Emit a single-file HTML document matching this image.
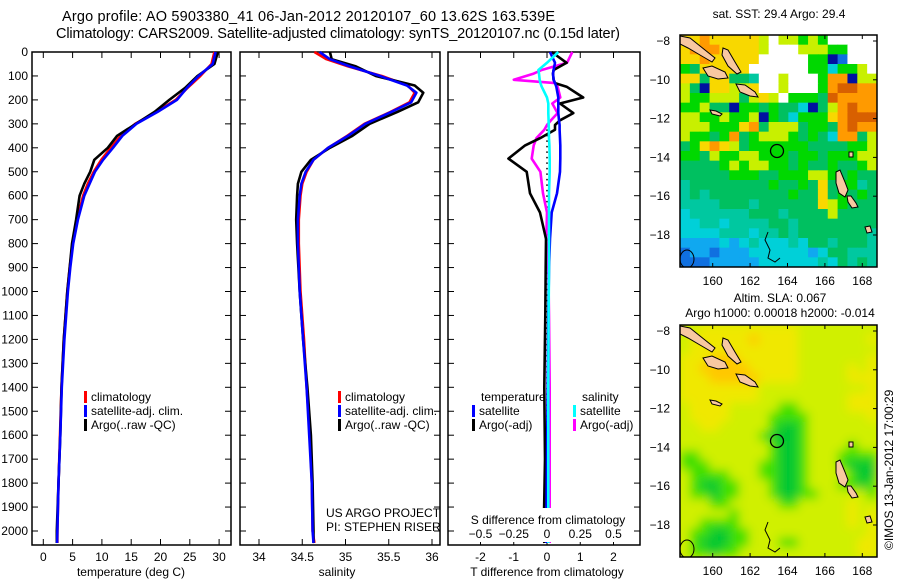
<!DOCTYPE html>
<html><head><meta charset="utf-8"><style>
html,body{margin:0;padding:0;background:#fff;}
svg{display:block;font-family:"Liberation Sans",sans-serif;}
text{font-size:12px;fill:#000;}
</style></head><body>
<svg id="chart" width="900" height="580" viewBox="0 0 900 580">
<defs>
<filter id="blur" x="-5%" y="-5%" width="110%" height="110%"><feGaussianBlur stdDeviation="5"/></filter>
<clipPath id="clip1"><rect x="680" y="35" width="197" height="232"/></clipPath>
<clipPath id="clip2"><rect x="680" y="325" width="197" height="232"/></clipPath>
</defs>
<text x="62" y="21" textLength="493" style="font-size:14.5px">Argo profile: AO 5903380_41 06-Jan-2012 20120107_60 13.62S 163.539E</text>
<text x="56" y="38" textLength="564" style="font-size:14.5px">Climatology: CARS2009. Satellite-adjusted climatology: synTS_20120107.nc (0.15d later)</text>
<g id="g1"></g>
<g id="g2"></g>
<g id="g3"></g>
<g id="gm"></g>
<text x="893" y="550" transform="rotate(-90 893 550)" style="font-size:12px">©IMOS 13-Jan-2012 17:00:29</text>
</svg>
<script>
// ---- data ----
const depthT = [0,50,100,150,200,250,300,350,400,450,500,550,600,700,800,900,1000,1200,1400,1600,1800,2000,2050];
const tempSat = [29.4,28.9,26.5,24.5,22.8,19.5,15.9,13.5,11.9,10.2,8.8,7.9,7.0,5.9,5.1,4.6,4.2,3.6,3.15,2.9,2.6,2.4,2.35];
const tempClim = [29.2,28.7,26.8,24.6,22.6,19.3,15.7,13.2,11.5,9.9,8.6,7.6,6.8,5.8,5.0,4.5,4.1,3.5,3.1,2.85,2.6,2.4,2.4];
const tempArgo = [29.8,29.2,26.3,24.2,21.5,19.0,15.8,12.6,11.0,8.7,8.0,7.0,6.2,5.6,4.9,4.5,4.1,3.5,3.1,2.9,2.6,2.3,2.3];
const depthS = [0,30,60,100,140,170,210,250,300,350,400,450,500,550,600,700,800,1000,1200,1400,1600,1800,2000,2050];
const salSat = [34.70,34.82,35.05,35.40,35.71,35.82,35.76,35.53,35.23,35.03,34.80,34.63,34.54,34.49,34.47,34.45,34.45,34.47,34.51,34.55,34.58,34.61,34.62,34.63];
const salClim = [34.64,34.78,35.03,35.42,35.72,35.80,35.74,35.52,35.22,35.02,34.80,34.63,34.55,34.50,34.48,34.46,34.46,34.48,34.52,34.55,34.59,34.61,34.62,34.64];
const salArgo = [34.82,34.84,35.12,35.35,35.80,35.90,35.84,35.60,35.28,35.08,34.82,34.60,34.49,34.45,34.44,34.43,34.44,34.47,34.51,34.56,34.60,34.62,34.63,34.63];
const depthD = [0,45,75,90,116,130,145,190,215,255,285,305,325,360,390,445,500,590,670,780,900,1100,1400,1700,2000,2050];
const dTArgo = [0.14,0.59,0.2,0.18,0.2,0.24,0.59,1.09,0.39,0.79,0.39,0.24,0.24,-0.21,-0.66,-1.16,-0.61,-0.51,-0.21,-0.03,-0.04,-0.05,-0.08,-0.06,-0.1,-0.08];
const dTSat = [0.09,0.24,0.2,0.18,0.2,0.24,0.28,0.34,0.34,0.34,0.36,0.38,0.38,0.39,0.40,0.40,0.39,0.3,0.14,0.09,0.06,0.04,0.02,0.0,-0.02,-0.02];
const dSSat = [0.085,0.0,-0.065,-0.06,-0.055,-0.05,-0.04,0.0,0.01,0.01,0.012,0.013,0.014,0.015,0.018,0.02,0.02,0.015,0.015,0.015,0.015,0.012,0.01,0.01,0.01,0.01];
const dSArgo = [0.19,0.15,-0.04,-0.1,-0.25,0.06,0.08,0.1,0.04,0.08,0.03,0.0,-0.02,-0.08,-0.1,-0.115,-0.05,-0.03,0.0,-0.005,0.01,0.015,0.02,0.02,0.02,0.02];
const depthTicks = [0,100,200,300,400,500,600,700,800,900,1000,1100,1200,1300,1400,1500,1600,1700,1800,1900,2000];
const tTicks = [0,5,10,15,20,25,30];
const sTicks = [34,34.5,35,35.5,36];
const dTTicks = [-2,-1,0,1,2];
const dSTicks = [-0.5,-0.25,0,0.25,0.5];
const map1Grid = ["yyoyyyyylwllglgwwwww","yoooyyyylwwwlllggwww","yyoyyyyywwwwwggnBwww","gGyyyyywwwwwwggcgglw","yyGyyGGtwwlwwwgoonll","lGnyyllywwlwwwgorroo","lgglllGlylwgggGroooo","gglGGnggGgGGcnGloroo","llgglgglngGcgggyorrr","lllgggyoGlllGggGoroo","lggGgoGglllgGgGcooGl","GgyoylGggggggGGGGggl","ggGlggllgggGggGgggll","GGGGglgllggGgGGgGGgl","GGGGGgggGGgggllgGgGG","tGGGGGGGGgGGgGyGggtG","tGtGGGGGGGGgGGyGgGgG","ttttGGGtGGGGGGylgGGG","cttttttGGGtGGGGlGGGG","ccttcttttGGtGGGGGGGG","cccctttcttGtGGGGGGGt","bbbbcbctccctcGGtGGGt","BbbBbbbccccccbcGGttt","BBBbbbbbcccccctcGtGt"];
const map2Grid = ["llyyyyyyyyyyllllllll","lyyyyyyoyyyyllllllly","lyyyyyyyyyyyllllllll","yyyoooyyyyyyllllllly","yyoooooyyyyylllllyly","yyyoooooyyyylllllyyy","yyyyyyyyllllllllllly","yyyyyyyylllllllllyyy","lyyyylllllgglllllyyy","lyyyyllllgggglllllly","llyylllllgGGglllllll","llllllllgGGGglllllll","lllllllllgGGgllllgll","gglllllllgGGglllgggg","ggglllllggGGglllgGGG","lgggglllggGGgllllgGG","lgGGgglllgGGglllggGg","lggGgglllgGGgglllllg","lllgglllllgglllllyll","lllllglllllllllllyly","llgggglllllllllllyly","lggGGgglllllllllllly","lgGGGgglllggllllllyy","lggGggllllllllllllyy"];
const lonTicks = [160,162,164,166,168];
const latTicks = [-8,-10,-12,-14,-16,-18];

// ---- helpers ----
const NS = "http://www.w3.org/2000/svg";
function mk(parent, tag, attrs, txt){const e=document.createElementNS(NS,tag);for(const k in attrs)e.setAttribute(k,attrs[k]);if(txt!==undefined)e.textContent=txt;parent.appendChild(e);return e;}
const Y0=52, Y1=545;
const yD = d => 52 + d*0.2395;
const xT = t => 43.3 + t*5.86;
const xS = s => 259 + (s-34)*86.5;
const xDT = t => 547 + t*33.25;
const xDS = s => 547 + s*133;

function frame(g, x0, x1, xticks, xf){
  const r = mk(g,'rect',{x:x0,y:Y0,width:x1-x0,height:Y1-Y0,fill:'none',stroke:'#000','stroke-width':1.5});
  
  
  depthTicks.forEach(d=>{
    const y=yD(d);
    const t1=mk(g,'line',{x1:x0,x2:x0+6,y1:y,y2:y,stroke:'#000','stroke-width':1});
    
    
    const t2=mk(g,'line',{x1:x1-6,x2:x1,y1:y,y2:y,stroke:'#000','stroke-width':1});
    
    
  });
  xticks.forEach(v=>{
    const x=xf(v);
    const a=mk(g,'line',{x1:x,x2:x,y1:Y0,y2:Y0+6,stroke:'#000','stroke-width':1});
    
    
    const b=mk(g,'line',{x1:x,x2:x,y1:Y1-6,y2:Y1,stroke:'#000','stroke-width':1});
    
    
    const l=mk(g,'text',{x:x,y:561,'text-anchor':'middle'},String(v));
    
    
  });
}
function line(g, xs, ds, xf, color, name){
  const pts = xs.map((v,i)=>xf(v).toFixed(1)+','+yD(ds[i]).toFixed(1)).join(' ');
  const p=mk(g,'polyline',{points:pts,fill:'none',stroke:color,'stroke-width':2.6,'stroke-linejoin':'round'});
  
  
}
function legend(g, x, y, color, label, name){
  const m=mk(g,'rect',{x:x,y:y-10,width:3,height:12,fill:color});
  
  
  const t=mk(g,'text',{x:x+7,y:y},label);
  
  
}

// ---- panel 1 ----
const g1=document.getElementById('g1');
frame(g1,32,231,tTicks,xT);
depthTicks.forEach(d=>{
  const l=mk(g1,'text',{x:28,y:yD(d)+4,'text-anchor':'end'},String(d));
  
  
});
line(g1,tempClim,depthT,xT,'#ff0000','temp-climatology-line');
line(g1,tempArgo,depthT,xT,'#000000','temp-argo-line');
line(g1,tempSat,depthT,xT,'#0000ff','temp-satellite-line');
legend(g1,84,401,'#ff0000','climatology','legend-climatology');
legend(g1,84,415,'#0000ff','satellite-adj. clim.','legend-satellite');
legend(g1,84,429,'#000000','Argo(..raw -QC)','legend-argo');
let t=mk(g1,'text',{x:131,y:576,'text-anchor':'middle'},'temperature (deg C)');



// ---- panel 2 ----
const g2=document.getElementById('g2');
frame(g2,240,440,sTicks,xS);
line(g2,salClim,depthS,xS,'#ff0000','sal-climatology-line');
line(g2,salArgo,depthS,xS,'#000000','sal-argo-line');
line(g2,salSat,depthS,xS,'#0000ff','sal-satellite-line');
legend(g2,338,401,'#ff0000','climatology','legend-climatology');
legend(g2,338,415,'#0000ff','satellite-adj. clim.','legend-satellite');
legend(g2,338,429,'#000000','Argo(..raw -QC)','legend-argo');
t=mk(g2,'text',{x:326,y:517},'US ARGO PROJECT');


t=mk(g2,'text',{x:326,y:531},'PI: STEPHEN RISER');


t=mk(g2,'text',{x:337,y:576,'text-anchor':'middle'},'salinity');



// ---- panel 3 ----
const g3=document.getElementById('g3');
frame(g3,448,640,dTTicks,xDT);
const z=mk(g3,'line',{x1:547,x2:547,y1:yD(300),y2:yD(2050),stroke:'#000','stroke-width':1.5,'stroke-dasharray':'1.5,4'});


line(g3,dSArgo,depthD,xDS,'#ff00ff','sal-diff-argo-line');
line(g3,dTArgo,depthD,xDT,'#000000','temp-diff-argo-line');
line(g3,dTSat,depthD,xDT,'#0000ff','temp-diff-satellite-line');
line(g3,dSSat,depthD,xDS,'#00ffff','sal-diff-satellite-line');
const bg=mk(g3,'rect',{x:480,y:508,width:150,height:34,fill:'#fff'});


dSTicks.forEach(v=>{
  const l=mk(g3,'text',{x:xDS(v),y:538,'text-anchor':'middle'},String(v).replace('-','\u2212'));
  
  
});
t=mk(g3,'text',{x:548,y:524,'text-anchor':'middle'},'S difference from climatology');


t=mk(g3,'text',{x:481,y:401},'temperature');


t=mk(g3,'text',{x:582,y:401},'salinity');


legend(g3,472,415,'#0000ff','satellite','legend-temp-satellite');
legend(g3,472,429,'#000000','Argo(-adj)','legend-temp-argo');
legend(g3,573,415,'#00ffff','satellite','legend-sal-satellite');
legend(g3,573,429,'#ff00ff','Argo(-adj)','legend-sal-argo');
t=mk(g3,'text',{x:547,y:576,'text-anchor':'middle'},'T difference from climatology');



// ---- maps ----
const gm=document.getElementById('gm');
const C1={y:'#f8d800',o:'#ff9a00',r:'#d86000',l:'#c8f000',g:'#00d800',G:'#00c060',t:'#00c8a0',c:'#00d0d8',b:'#10a8f0',B:'#1070e0',n:'#0010a0',w:'#ffffff'};
const C2={y:'#f0e800',o:'#ffc800',l:'#d0f000',g:'#40e000',G:'#00c830'};
const lonX = lon => 712.7 + (lon-160)*18.7;
function drawMap(grid, cols, y0, clip, blur, name){
  const w=197/20, h=232/24;
  const outer=mk(gm,'g',{'clip-path':'url(#'+clip+')'});
  
  
  const gg=mk(outer,'g',blur?{filter:'url(#blur)'}:{});
  if(blur){mk(gg,'rect',{x:670,y:y0-10,width:220,height:252,fill:cols.l});}
  grid.forEach((row,r)=>{
    [...row].forEach((ch,c)=>{
      mk(gg,'rect',{x:(680+c*w).toFixed(2),y:(y0+r*h).toFixed(2),width:(w+0.6).toFixed(2),height:(h+0.6).toFixed(2),fill:cols[ch]});
    });
  });
  const off=y0-35;
  const isl=mk(outer,'g',{transform:'translate(0,'+off+')',fill:'#f8c8a0',stroke:'#000','stroke-width':1});
  
  
  ['680,36 690,38 705,50 715,58 712,62 700,55 688,48 680,44','723,48 728,50 735,62 741,72 737,74 728,66 722,55','703,68 712,66 725,72 728,78 718,79 708,76','736,84 745,85 755,92 758,97 750,96 740,92','710,110 716,111 722,114 720,116 712,114','836,172 840,170 845,182 848,190 845,197 839,193 836,183','847,196 851,196 856,203 858,207 852,208 848,202','865,227 870,226 872,232 867,233','849,152 853,152 853,157 849,157'].forEach(p=>mk(isl,'polygon',{points:p}));
  mk(isl,'polyline',{points:'768,232 765,240 770,250 768,258 775,262 780,258',fill:'none'});
  mk(isl,'ellipse',{cx:687,cy:259,rx:7,ry:9,fill:'none'});
  const fr=mk(gm,'rect',{x:680,y:y0,width:197,height:232,fill:'none',stroke:'#000','stroke-width':1.5});
  
  
  const circ=mk(gm,'circle',{cx:777,cy:151+off,r:6.5,fill:'none',stroke:'#000','stroke-width':1.3});
  
  
  lonTicks.forEach(v=>{
    const x=lonX(v);
    mk(gm,'line',{x1:x,x2:x,y1:y0,y2:y0+4,stroke:'#000'});
    mk(gm,'line',{x1:x,x2:x,y1:y0+228,y2:y0+232,stroke:'#000'});
    const l=mk(gm,'text',{x:x,y:y0+250,'text-anchor':'middle'},String(v));
    
    
  });
  latTicks.forEach(v=>{
    const y=41+off+(-8-v)*19.4;
    mk(gm,'line',{x1:873,x2:877,y1:y,y2:y,stroke:'#000'});
    const l=mk(gm,'text',{x:670,y:y+4,'text-anchor':'end'},String(v).replace('-','\u2212'));
    
    
  });
}
drawMap(map1Grid,C1,35,'clip1',false,'sst-map');
drawMap(map2Grid,C2,325,'clip2',true,'sla-map');
t=mk(gm,'text',{x:779,y:18,'text-anchor':'middle'},'sat. SST: 29.4 Argo: 29.4');


t=mk(gm,'text',{x:780,y:302,'text-anchor':'middle'},'Altim. SLA: 0.067');


t=mk(gm,'text',{x:780,y:317,'text-anchor':'middle'},'Argo h1000: 0.00018 h2000: -0.014');


</script>
</body></html>
